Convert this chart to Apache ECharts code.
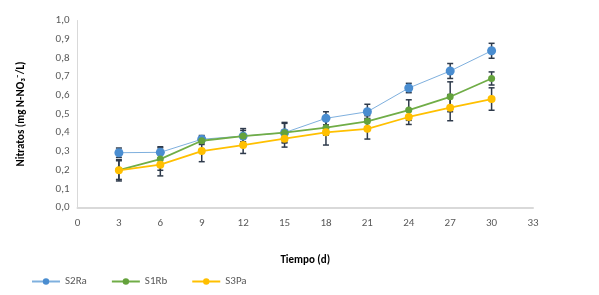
<!DOCTYPE html>
<html><head><meta charset="utf-8">
<script src="https://cdn.jsdelivr.net/npm/echarts@6/dist/echarts.min.js"></script>
<style>html,body{margin:0;padding:0;background:#fff}#c{width:599px;height:295px}</style>
</head><body><div id="c"></div>
<script>
const days = [3, 6, 9, 12, 15, 18, 21, 24, 27, 30];
const s2Ra = [0.293, 0.295, 0.365, 0.382, 0.400, 0.477, 0.512, 0.639, 0.730, 0.838];
const s2RaErr = [0.025, 0.03, 0.02, 0.04, 0.055, 0.035, 0.04, 0.025, 0.04, 0.04];
const s1Rb = [0.200, 0.259, 0.357, 0.382, 0.400, 0.427, 0.461, 0.521, 0.592, 0.690];
const s1RbErr = [0.05, 0.06, 0.02, 0.03, 0.05, 0.04, 0.03, 0.055, 0.08, 0.035];
const s3Pa = [0.199, 0.229, 0.302, 0.334, 0.368, 0.402, 0.421, 0.484, 0.534, 0.580];
const s3PaErr = [0.057, 0.06, 0.057, 0.045, 0.045, 0.068, 0.055, 0.04, 0.07, 0.06];
const yTicks = ['0,0','0,1','0,2','0,3','0,4','0,5','0,6','0,7','0,8','0,9','1,0'];

const errColor = '#2E3A4B';
function errData(vals, errs){ return days.map((d,i)=>[d, vals[i]-errs[i], vals[i]+errs[i]]); }
function errSeries(vals, errs, z){
  return {
    type:'custom', silent:true, z:z,
    data: errData(vals, errs),
    renderItem:function(params, api){
      const x = api.value(0);
      const lo = api.coord([x, api.value(1)]);
      const hi = api.coord([x, api.value(2)]);
      const w = 3;
      const st = {stroke: errColor, lineWidth: 1.5};
      return {type:'group', children:[
        {type:'line', shape:{x1:lo[0],y1:lo[1],x2:hi[0],y2:hi[1]}, style:st},
        {type:'line', shape:{x1:lo[0]-w,y1:lo[1],x2:lo[0]+w,y2:lo[1]}, style:st},
        {type:'line', shape:{x1:hi[0]-w,y1:hi[1],x2:hi[0]+w,y2:hi[1]}, style:st}
      ]};
    },
    encode:{x:0, y:[1,2]}
  };
}
const font = 'Carlito, Calibri, "Liberation Sans", "DejaVu Sans", sans-serif';
const chart = echarts.init(document.getElementById('c'), null, {renderer:'canvas'});
chart.setOption({
  animation:false,
  backgroundColor:'#fff',
  textStyle:{fontFamily:font},
  grid:{left:77.5, right:66, top:20.5, bottom:87.5},
  xAxis:{
    type:'value', min:0, max:33, interval:3,
    name:'Tiempo (d)', nameLocation:'middle', nameGap:47,
    nameTextStyle:{fontWeight:'bold', fontSize:11, color:'#000', fontFamily:font},
    axisLine:{show:true, lineStyle:{color:'#D9D9D9', width:2}},
    axisTick:{show:false},
    splitLine:{show:false},
    axisLabel:{color:'#595959', fontSize:11, margin:10, fontFamily:font}
  },
  yAxis:{
    type:'value', min:0, max:1, interval:0.1,
    name:'Nitratos (mg N-NO\u2083\u207B/L)', nameLocation:'middle', nameGap:51,
    nameTextStyle:{fontWeight:'bold', fontSize:11, color:'#000', fontFamily:font},
    axisLine:{show:true, lineStyle:{color:'#D9D9D9', width:1}},
    axisTick:{show:false},
    splitLine:{show:false},
    axisLabel:{color:'#595959', fontSize:11, margin:8, fontFamily:font,
      formatter:function(v){ return yTicks[Math.round(v*10)]; }}
  },
  legend:{
    data:['S2Ra','S1Rb','S3Pa'], left:26, bottom:3, itemWidth:28, itemHeight:8, itemGap:24,
    textStyle:{color:'#595959', fontSize:11, fontFamily:font}
  },
  series:[
    {name:'S2Ra', type:'line', data:days.map((d,i)=>[d,s2Ra[i]]), z:3,
     symbol:'circle', symbolSize:9, color:'#5B9BD5',
     lineStyle:{width:1, color:'#7FB0DE'}, itemStyle:{color:'#4A8DD0'}},
    {name:'S1Rb', type:'line', data:days.map((d,i)=>[d,s1Rb[i]]), z:4,
     symbol:'circle', symbolSize:7, color:'#70AD47',
     lineStyle:{width:1.8, color:'#70AD47'}, itemStyle:{color:'#64A23C'}},
    {name:'S3Pa', type:'line', data:days.map((d,i)=>[d,s3Pa[i]]), z:5,
     symbol:'circle', symbolSize:8, color:'#FFC000',
     lineStyle:{width:1.8, color:'#FFC000'}, itemStyle:{color:'#FFBF00'}},
    errSeries(s2Ra, s2RaErr, 2),
    errSeries(s1Rb, s1RbErr, 2),
    errSeries(s3Pa, s3PaErr, 2)
  ]
});
</script></body></html>
